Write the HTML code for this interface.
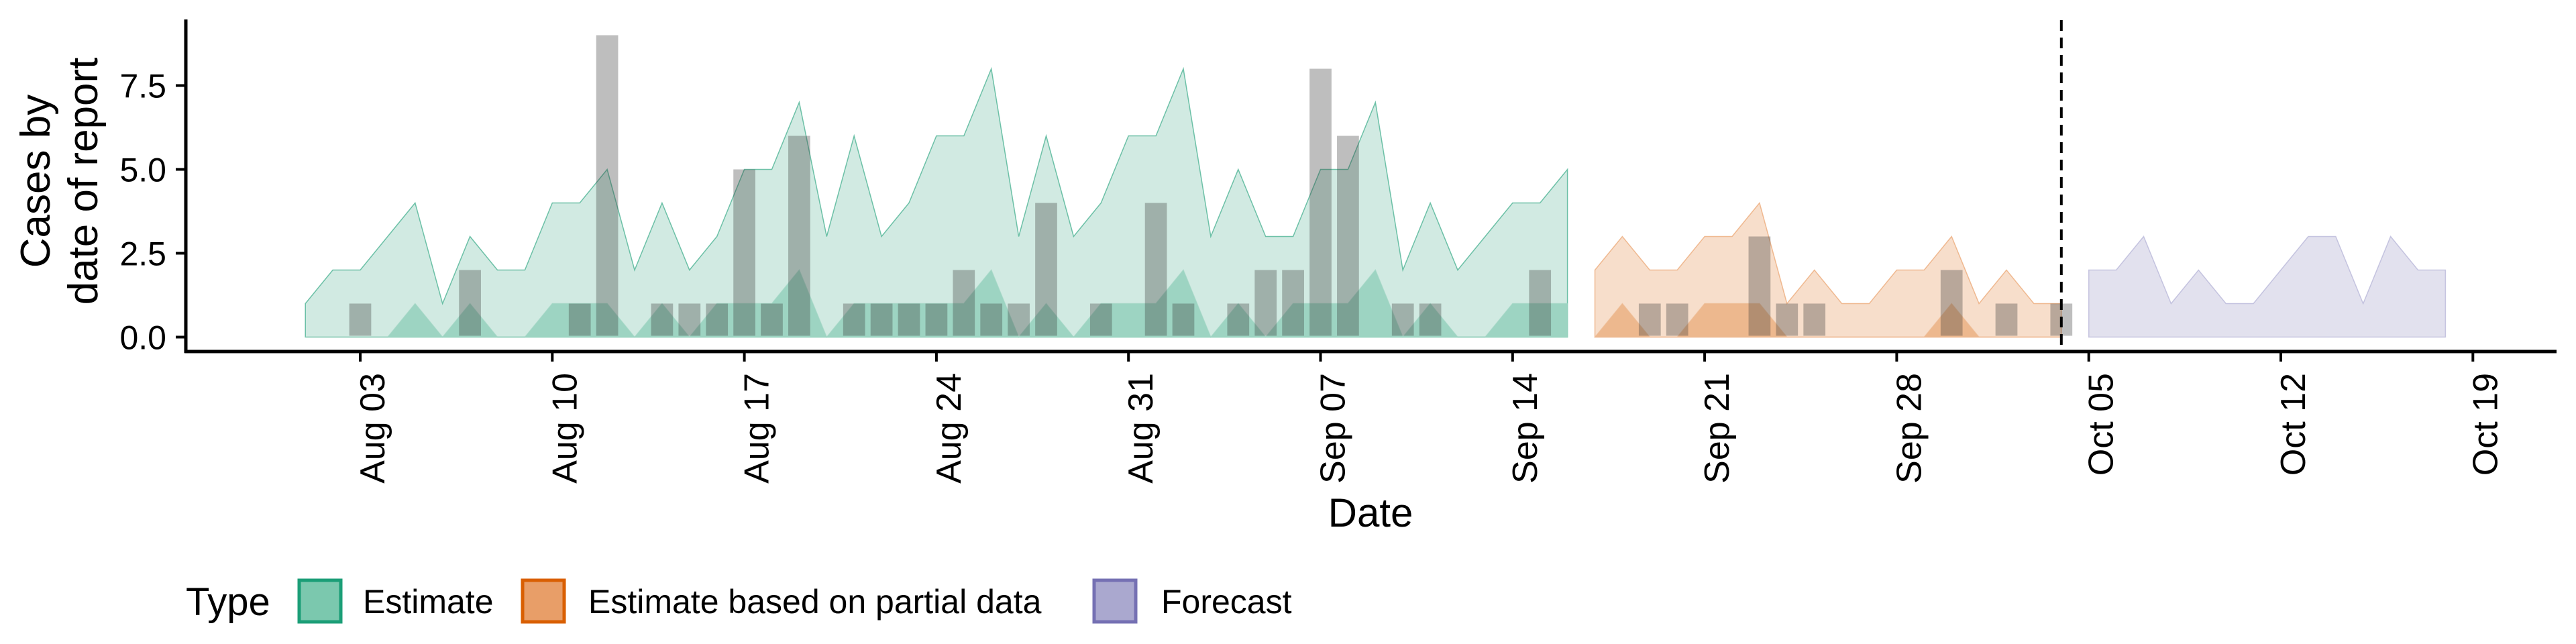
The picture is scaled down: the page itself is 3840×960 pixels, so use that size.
<!DOCTYPE html>
<html><head><meta charset="utf-8"><style>
html,body{margin:0;padding:0;background:#fff;}
svg{display:block;font-family:"Liberation Sans",sans-serif;}
</style></head><body>
<svg id="chart" width="3840" height="960" viewBox="0 0 3840 960" xmlns="http://www.w3.org/2000/svg">
<g id="ribbons"></g>
<g id="bars"></g>
<g id="axes"></g>
<g id="legend"></g>
</svg>
<script>
// day offsets relative to Aug 03
const estDays = [-2,-1,0,1,2,3,4,5,6,7,8,9,10,11,12,13,14,15,16,17,18,19,20,21,22,23,24,25,26,27,28,29,30,31,32,33,34,35,36,37,38,39,40,41,42,43,44];
const estUpper = [1,2,2,3,4,1,3,2,2,4,4,5,2,4,2,3,5,5,7,3,6,3,4,6,6,8,3,6,3,4,6,6,8,3,5,3,3,5,5,7,2,4,2,3,4,4,5];
const estInner = [0,0,0,0,1,0,1,0,0,1,1,1,0,1,0,1,1,1,2,0,1,1,1,1,1,2,0,1,0,1,1,1,2,0,1,0,1,1,1,2,0,1,0,0,1,1,1];
const partDays = [45,46,47,48,49,50,51,52,53,54,55,56,57,58,59,60,61,62];
const partUpper = [2,3,2,2,3,3,4,1,2,1,1,2,2,3,1,2,1,1];
const partInner = [0,1,0,0,1,1,1,0,0,0,0,0,0,1,0,0,0,0];
const fcDays = [63,64,65,66,67,68,69,70,71,72,73,74,75,76];
const fcUpper = [2,2,3,1,2,1,1,2,3,3,1,3,2,2];
const barDays = [0,4,8,9,11,12,13,14,15,16,18,19,20,21,22,23,24,25,27,29,30,32,33,34,35,36,38,39,43,47,48,51,52,53,58,60,62];
const barValues = [1,2,1,9,1,1,1,5,1,6,1,1,1,1,2,1,1,4,1,4,1,1,2,2,8,6,1,1,2,1,1,3,1,1,2,1,1];
const xTickDays = [0,7,14,21,28,35,42,49,56,63,70,77];
const xTickLabels = ["Aug 03","Aug 10","Aug 17","Aug 24","Aug 31","Sep 07","Sep 14","Sep 21","Sep 28","Oct 05","Oct 12","Oct 19"];
const yTicks = [0,2.5,5,7.5];
const yTickLabels = ["0.0","2.5","5.0","7.5"];
const forecastDay = 62;

const NS = "http://www.w3.org/2000/svg";
const X0 = 537, DX = 40.9, Y0 = 502.5, DY = 50;
function xs(d){ return X0 + DX*d; }
function ys(v){ return Y0 - DY*v; }
function mk(tag, attrs, parent){
  const e = document.createElementNS(NS, tag);
  for (const k in attrs) e.setAttribute(k, attrs[k]);
  parent.appendChild(e);
  return e;
}
function ribbon(days, up, parent, fill, stroke, name){
  let pts = days.map((d,i)=>xs(d).toFixed(1)+","+ys(up[i]).toFixed(1));
  pts.push(xs(days[days.length-1]).toFixed(1)+","+ys(0));
  pts.push(xs(days[0]).toFixed(1)+","+ys(0));
  const p = mk("polygon", {points: pts.join(" "), fill: fill, stroke: stroke, "stroke-width": 1.5, "stroke-opacity": 0.6}, parent);
  
  
}
const rib = document.getElementById("ribbons");
ribbon(estDays, estUpper, rib, "#d1eae2", "#1b9e77", "estimate-outer-ribbon");
ribbon(estDays, estInner, rib, "#9dd4c2", "#9dd4c2", "estimate-inner-ribbon");
ribbon(partDays, partUpper, rib, "#f7decb", "#e8965a", "partial-outer-ribbon");
ribbon(partDays, partInner, rib, "#edb88e", "#edb88e", "partial-inner-ribbon");
ribbon(fcDays, fcUpper, rib, "#e2e1ee", "#a9a6d0", "forecast-ribbon");

const bars = document.getElementById("bars");
barDays.forEach((d,i)=>{
  const w = DX*0.8;
  const r = mk("rect", {x: xs(d)-w/2, y: ys(barValues[i]), width: w, height: DY*barValues[i]-2, fill: "#363636", "fill-opacity": 0.32}, bars);
  
  
});

const ax = document.getElementById("axes");
const dash = mk("line", {x1: xs(forecastDay), x2: xs(forecastDay), y1: 30, y2: 524, stroke: "#000", "stroke-width": 4, "stroke-dasharray": "16,10"}, ax);


const yl = mk("line", {x1: 277, x2: 277, y1: 29, y2: 526, stroke: "#000", "stroke-width": 5}, ax);


const xl = mk("line", {x1: 275, x2: 3811, y1: 524, y2: 524, stroke: "#000", "stroke-width": 5}, ax);


yTicks.forEach((v,i)=>{
  const t = mk("line", {x1: 262, x2: 277, y1: ys(v), y2: ys(v), stroke: "#000", "stroke-width": 4}, ax);
  
  
  const l = mk("text", {x: 248, y: ys(v)+18, "text-anchor": "end", "font-size": 50, fill: "#000"}, ax);
  l.textContent = yTickLabels[i];
  
  
});
xTickDays.forEach((d,i)=>{
  const t = mk("line", {x1: xs(d), x2: xs(d), y1: 524, y2: 539, stroke: "#000", "stroke-width": 4}, ax);
  
  
  const bx = xs(d)+36, by = 556;
  const l = mk("text", {x: bx, y: by, "text-anchor": "end", "font-size": 52, fill: "#000", transform: "rotate(-90 "+bx+" "+by+")"}, ax);
  l.textContent = xTickLabels[i];
  
  
});
const xt = mk("text", {x: 2043, y: 785, "text-anchor": "middle", "font-size": 60, fill: "#000"}, ax);
xt.textContent = "Date";


[["Cases by",74],["date of report",145]].forEach(([s,bx])=>{
  const by = 270;
  const l = mk("text", {x: bx, y: by, "text-anchor": "middle", "font-size": 62, fill: "#000", transform: "rotate(-90 "+bx+" "+by+")"}, ax);
  l.textContent = s;
  
  
});

const lg = document.getElementById("legend");
const lt = mk("text", {x: 277, y: 917, "font-size": 58, fill: "#000"}, lg);
lt.textContent = "Type";


const legendLabels = ["Estimate","Estimate based on partial data","Forecast"];
const legendFill = ["#7bc8ae","#e89e68","#aaa8cf"];
const legendStroke = ["#1b9e77","#d95f02","#7570b3"];
const legendKeyX = [443, 776, 1628];
const legendTextX = [541, 877, 1731];
legendLabels.forEach((s,i)=>{
  const r = mk("rect", {x: legendKeyX[i]+3, y: 865, width: 62, height: 62, fill: legendFill[i], stroke: legendStroke[i], "stroke-width": 5}, lg);
  
  
  const t = mk("text", {x: legendTextX[i], y: 914, "font-size": 50, fill: "#000"}, lg);
  t.textContent = s;
  
  
});
</script>
</body></html>
